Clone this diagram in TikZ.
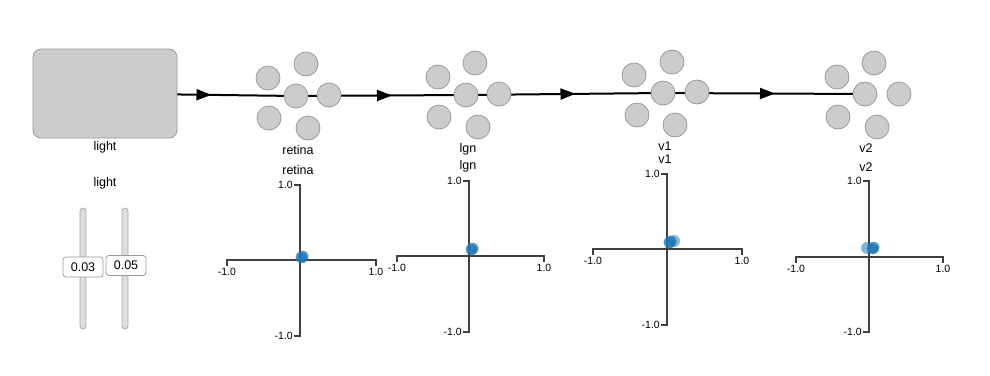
\documentclass[tikz,border=0pt]{standalone}
\usepackage{fontspec}
\setmainfont{Liberation Sans}
\usetikzlibrary{arrows.meta,decorations.markings}
\definecolor{nodegray}{HTML}{CCCCCC}
\definecolor{nodeedge}{HTML}{999999}
\definecolor{dotblue}{HTML}{1F77B4}
\definecolor{axcol}{HTML}{404040}
\definecolor{trackfill}{HTML}{DDDDDD}
\definecolor{trackedge}{HTML}{AAAAAA}
\pgfdeclarelayer{bg}
\pgfsetlayers{bg,main}
\tikzset{
  neuron/.style={circle,fill=nodegray,draw=nodeedge,line width=0.8pt,minimum size=24pt,inner sep=0pt},
  lbl/.style={font=\fontsize{12.5}{14}\selectfont,inner sep=0pt},
  ticklbl/.style={font=\fontsize{10.5}{12}\selectfont,inner sep=0pt},
  conn/.style={line width=2pt,postaction={decorate},
    decoration={markings,mark=at position 0.5 with {\arrow[xshift=11pt]{Triangle[length=15pt,width=11pt]}}}},
  axisline/.style={line width=1.4pt,draw=axcol},
  track/.style={fill=trackfill,draw=trackedge,line width=0.8pt,rounded corners=3pt},
  valbox/.style={draw=nodeedge,fill=white,rounded corners=3pt,line width=0.8pt,minimum width=40pt,minimum height=20pt,inner sep=0pt,font=\fontsize{12.5}{14}\selectfont},
  dot/.style={fill=dotblue,fill opacity=0.55,draw=none},
}
\newcommand\myplotaxes[6]{%
  \draw[axisline] (#3,#2+6) -- (#3,#2) -- (#4,#2) -- (#4,#2+6);
  \draw[axisline] (#1-6,#5) -- (#1,#5) -- (#1,#6) -- (#1-6,#6);
  \node[ticklbl,anchor=east] at (#1-7,#5) {1.0};
  \node[ticklbl,anchor=east] at (#1-7,#6) {-1.0};
  \node[ticklbl,anchor=north] at (#3,#2+8) {-1.0};
  \node[ticklbl,anchor=north] at (#4,#2+8) {1.0};
}
\newcommand\mydots[2]{%
  \fill[dot] (#1,#2) circle (6.2);
  \fill[dot] (#1+1.2,#2-0.8) circle (5.5);
  \fill[dot] (#1-1,#2+0.7) circle (5.5);
  \fill[dot] (#1+0.5,#2+1) circle (5);
}
\begin{document}
\begin{tikzpicture}[x=1pt,y=-1pt]
\useasboundingbox (0,0) rectangle (990,375);

% light box
\node[draw=nodeedge,fill=nodegray,line width=0.8pt,rounded corners=8pt,minimum width=144pt,minimum height=89pt,inner sep=0pt] (light) at (105,93.5) {};
\node[lbl] (lightlbl) at (105,147) {light};
\node[lbl] (lightlbl2) at (105,183) {light};

% retina
\node[neuron] (r1) at (268,78) {};
\node[neuron] (r2) at (306,64) {};
\node[neuron] (r3) at (296,96) {};
\node[neuron] (r4) at (329,95) {};
\node[neuron] (r5) at (269,118) {};
\node[neuron] (r6) at (308,128) {};
\node[lbl] (retlbl) at (298,150) {retina};
\node[lbl] (retlbl2) at (298,170) {retina};

% lgn
\node[neuron] (l1) at (438,77) {};
\node[neuron] (l2) at (475,63) {};
\node[neuron] (l3) at (466,95) {};
\node[neuron] (l4) at (499,94) {};
\node[neuron] (l5) at (439,117) {};
\node[neuron] (l6) at (478,127) {};
\node[lbl] (lgnlbl) at (468,149) {lgn};
\node[lbl] (lgnlbl2) at (468,166) {lgn};

% v1
\node[neuron] (a1) at (634,75) {};
\node[neuron] (a2) at (672,62) {};
\node[neuron] (a3) at (663,93) {};
\node[neuron] (a4) at (697,92) {};
\node[neuron] (a5) at (637,115) {};
\node[neuron] (a6) at (675,125) {};
\node[lbl] (v1lbl) at (665,146) {v1};
\node[lbl] (v1lbl2) at (665,159) {v1};

% v2
\node[neuron] (b1) at (837,77) {};
\node[neuron] (b2) at (874,63) {};
\node[neuron] (b3) at (865,94) {};
\node[neuron] (b4) at (899,94) {};
\node[neuron] (b5) at (838,117) {};
\node[neuron] (b6) at (877,127) {};
\node[lbl] (v2lbl) at (866,148) {v2};
\node[lbl] (v2lbl2) at (866,167) {v2};

% connectors
\begin{pgfonlayer}{bg}
\draw[conn] (light.center) -- (r3.center);
\draw[conn] (r3.center) -- (l3.center);
\draw[conn] (l3.center) -- (a3.center);
\draw[conn] (a3.center) -- (b3.center);
\end{pgfonlayer}

% sliders
\draw[track] (80,208) rectangle (86,329);
\draw[track] (122,208) rectangle (128,329);
\node[valbox] (s1) at (83,267) {0.03};
\node[valbox] (s2) at (126,265.5) {0.05};

% plots
\myplotaxes{300}{260}{227}{376}{185}{336}
\mydots{302}{257}
\myplotaxes{469}{256}{397}{544}{181}{332}
\mydots{472}{249}
\myplotaxes{667}{249}{593}{742}{174}{325}
\fill[dot] (674,241) circle (6);
\mydots{670}{242}
\myplotaxes{869}{257}{796}{943}{181}{332}
\fill[dot] (867,248) circle (6);
\mydots{873}{248}
\end{tikzpicture}
\end{document}
